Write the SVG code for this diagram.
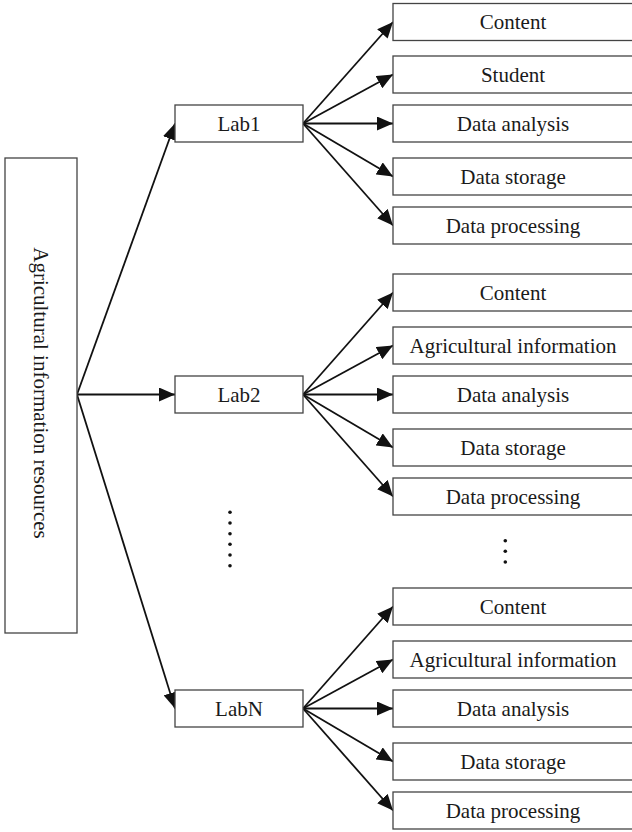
<svg xmlns="http://www.w3.org/2000/svg" width="632" height="832" viewBox="0 0 632 832">
<style>
.box{fill:#fff;stroke:#444;stroke-width:1.3}
.t{font-family:"Liberation Serif","Times New Roman",serif;font-size:21px;fill:#1a1a1a;text-anchor:middle}
.c{stroke:#111;stroke-width:1.8;fill:none;marker-end:url(#ah)}
.dot{fill:#111}
</style>
<defs>
<marker id="ah" markerUnits="userSpaceOnUse" markerWidth="16" markerHeight="14" refX="16" refY="7" orient="auto">
<path d="M0,0 L16,7 L0,14 z" fill="#111"/>
</marker>
</defs>
<rect width="632" height="832" fill="#fff"/>
<g id="connectors">
<line class="c" x1="77" y1="394.5" x2="175" y2="123.5"/>
<line class="c" x1="77" y1="394.5" x2="175" y2="394.5"/>
<line class="c" x1="77" y1="394.5" x2="175" y2="708.5"/>
<line class="c" x1="303" y1="123.5" x2="393" y2="22"/>
<line class="c" x1="303" y1="123.5" x2="393" y2="74.5"/>
<line class="c" x1="303" y1="123.5" x2="393" y2="123.5"/>
<line class="c" x1="303" y1="123.5" x2="393" y2="176.5"/>
<line class="c" x1="303" y1="123.5" x2="393" y2="225.5"/>
<line class="c" x1="303" y1="394.5" x2="393" y2="292.5"/>
<line class="c" x1="303" y1="394.5" x2="393" y2="345.5"/>
<line class="c" x1="303" y1="394.5" x2="393" y2="394.5"/>
<line class="c" x1="303" y1="394.5" x2="393" y2="447.5"/>
<line class="c" x1="303" y1="394.5" x2="393" y2="496.5"/>
<line class="c" x1="303" y1="708.5" x2="393" y2="606.5"/>
<line class="c" x1="303" y1="708.5" x2="393" y2="659.5"/>
<line class="c" x1="303" y1="708.5" x2="393" y2="708.5"/>
<line class="c" x1="303" y1="708.5" x2="393" y2="761.5"/>
<line class="c" x1="303" y1="708.5" x2="393" y2="810.5"/>
</g>
<g id="root">
<rect class="box" x="5" y="158" width="72" height="475"/>
<text class="t" transform="translate(41,393) rotate(90)" y="7">Agricultural information resources</text>
</g>
<g id="lab1"><rect class="box" x="175" y="105" width="128" height="37"/><text class="t" x="239" y="130.5">Lab1</text></g>
<g id="lab2"><rect class="box" x="175" y="376" width="128" height="37"/><text class="t" x="239" y="401.5">Lab2</text></g>
<g id="labN"><rect class="box" x="175" y="690" width="128" height="37"/><text class="t" x="239" y="715.5">LabN</text></g>

<g id="l1-content"><rect class="box" x="393" y="3.5" width="240" height="37"/><text class="t" x="513" y="29">Content</text></g>
<g id="l1-student"><rect class="box" x="393" y="56" width="240" height="37"/><text class="t" x="513" y="81.5">Student</text></g>
<g id="l1-analysis"><rect class="box" x="393" y="105" width="240" height="37"/><text class="t" x="513" y="130.5">Data analysis</text></g>
<g id="l1-storage"><rect class="box" x="393" y="158" width="240" height="37"/><text class="t" x="513" y="183.5">Data storage</text></g>
<g id="l1-processing"><rect class="box" x="393" y="207" width="240" height="37"/><text class="t" x="513" y="232.5">Data processing</text></g>

<g id="l2-content"><rect class="box" x="393" y="274" width="240" height="37"/><text class="t" x="513" y="299.5">Content</text></g>
<g id="l2-agri"><rect class="box" x="393" y="327" width="240" height="37"/><text class="t" x="513" y="352.5">Agricultural information</text></g>
<g id="l2-analysis"><rect class="box" x="393" y="376" width="240" height="37"/><text class="t" x="513" y="401.5">Data analysis</text></g>
<g id="l2-storage"><rect class="box" x="393" y="429" width="240" height="37"/><text class="t" x="513" y="454.5">Data storage</text></g>
<g id="l2-processing"><rect class="box" x="393" y="478" width="240" height="37"/><text class="t" x="513" y="503.5">Data processing</text></g>

<g id="lN-content"><rect class="box" x="393" y="588" width="240" height="37"/><text class="t" x="513" y="613.5">Content</text></g>
<g id="lN-agri"><rect class="box" x="393" y="641" width="240" height="37"/><text class="t" x="513" y="666.5">Agricultural information</text></g>
<g id="lN-analysis"><rect class="box" x="393" y="690" width="240" height="37"/><text class="t" x="513" y="715.5">Data analysis</text></g>
<g id="lN-storage"><rect class="box" x="393" y="743" width="240" height="37"/><text class="t" x="513" y="768.5">Data storage</text></g>
<g id="lN-processing"><rect class="box" x="393" y="792" width="240" height="37"/><text class="t" x="513" y="817.5">Data processing</text></g>

<g id="ellipsis-labs">
<circle class="dot" cx="230" cy="512.3" r="1.8"/>
<circle class="dot" cx="230" cy="523" r="1.8"/>
<circle class="dot" cx="230" cy="533.7" r="1.8"/>
<circle class="dot" cx="230" cy="544.3" r="1.8"/>
<circle class="dot" cx="230" cy="555" r="1.8"/>
<circle class="dot" cx="230" cy="565.7" r="1.8"/>
</g>
<g id="ellipsis-items">
<circle class="dot" cx="505.3" cy="540.7" r="1.8"/>
<circle class="dot" cx="505.3" cy="551.3" r="1.8"/>
<circle class="dot" cx="505.3" cy="562" r="1.8"/>
</g>
</svg>
